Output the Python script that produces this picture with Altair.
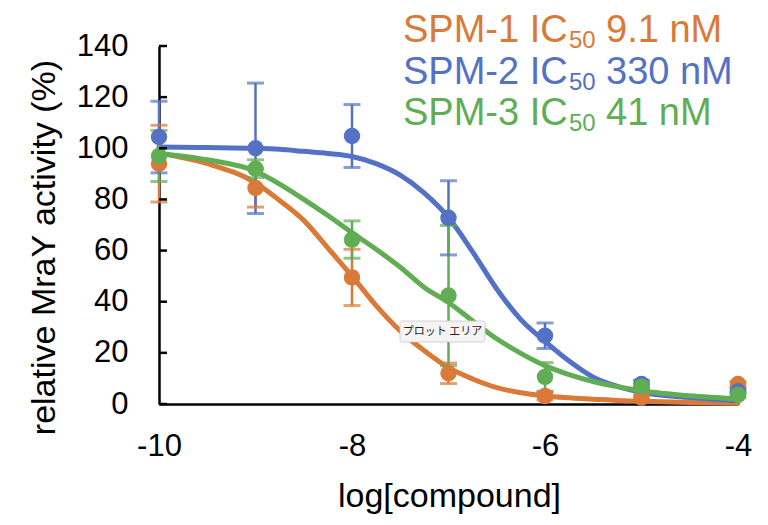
import altair as alt
import pandas as pd

# ---------------- data ----------------
series = ["SPM-1", "SPM-2", "SPM-3"]
ic50_text = ["9.1 nM", "330 nM", "41 nM"]
colors = ["#D97A38", "#5372C6", "#60AD54"]

log_conc = [-10, -9, -8, -7, -6, -5, -4]
spm1_mean = [94, 84.5, 49.5, 12, 3.1, 2.5, 7.8]
spm1_err = [15, 7.5, 11, 4, 1.5, 1, 1]
spm2_mean = [104.4, 100, 104.8, 72.8, 26.7, 7.8, 5]
spm2_err = [14, 25.5, 12.3, 14.5, 5, 1.5, 1]
spm3_mean = [97, 92, 64.3, 42.4, 10.6, 6.8, 3.5]
spm3_err = [10, 3.5, 7.3, 27.4, 5.6, 1, 1]

# fitted curves
fit_x = [-10, -9.5, -9, -8.75, -8.5, -8.25, -8, -7.75, -7.5, -7.25, -7,
         -6.75, -6.5, -6.25, -6, -5.75, -5.5, -5.25, -5, -4.5, -4]
spm1_fit = [98, 94, 86.5, 79.6, 71.8, 61, 50, 38.5, 28.6, 20.8, 14.2,
            9.8, 6.4, 4.4, 3.1, 2.4, 1.9, 1.4, 1.1, 0.6, 0.3]
spm2_fit = [100.5, 100.3, 100, 99.6, 98.8, 98, 96.8, 94, 89.5, 82.5, 73,
            59.5, 45, 33, 24.5, 16.8, 10.5, 6.9, 4.6, 2.5, 1.3]
spm3_fit = [98, 95.5, 91, 86, 80, 73.7, 67, 60.5, 53.5, 45.6, 39.7,
            32.5, 25.5, 19.8, 15, 11.5, 8.8, 6.8, 5.2, 3.2, 2]

x_ticks = [-10, -8, -6, -4]
y_ticks = [0, 20, 40, 60, 80, 100, 120, 140]
tooltip_label = "プロット エリア"

# ---------------- tables ----------------
means = [spm1_mean, spm2_mean, spm3_mean]
errs = [spm1_err, spm2_err, spm3_err]
fits = [spm1_fit, spm2_fit, spm3_fit]

pts = pd.DataFrame([
    {"series": s, "x": x, "mean": m, "err": e}
    for s, ms, es in zip(series, means, errs)
    for x, m, e in zip(log_conc, ms, es)
])
curves = pd.DataFrame([
    {"series": s, "x": x, "y": y}
    for s, ys in zip(series, fits)
    for x, y in zip(fit_x, ys)
])
ticks_df = pd.DataFrame({"v": y_ticks})

FONT = "Liberation Sans"

xscale = alt.Scale(domain=[-10, -4], nice=False, zero=False)
yscale = alt.Scale(domain=[0, 140], nice=False)
cscale = alt.Scale(domain=series, range=colors)

xaxis = alt.Axis(values=x_ticks, ticks=False, tickSize=0, grid=False,
                 labelExpr="'' + datum.value", labelPadding=27, labelFlush=False,
                 domainColor="black", domainWidth=2.5,
                 title="log[compound]", titleX=290, titleY=102,
                 titleBaseline="alphabetic", titleAlign="center")
yaxis = alt.Axis(values=y_ticks, ticks=False, tickSize=0, grid=False,
                 format="d", labelPadding=31,
                 domainColor="black", domainWidth=2.5,
                 title="relative MraY activity (%)", titleX=-105, titleY=201,
                 titleBaseline="alphabetic", titleAlign="center")

X = alt.X("x:Q", scale=xscale, axis=xaxis)
C = alt.Color("series:N", scale=cscale, legend=None)

lines = alt.Chart(curves).mark_line(strokeWidth=5, interpolate="monotone",
                                    strokeCap="round").encode(
    x=X, y=alt.Y("y:Q", scale=yscale, axis=yaxis), color=C,
    detail="series:N")

base = alt.Chart(pts).transform_calculate(
    lo="datum.mean - datum.err", hi="datum.mean + datum.err")

bars = base.mark_rule(strokeWidth=2.5).encode(
    x=alt.X("x:Q", scale=xscale), y=alt.Y("lo:Q", scale=yscale), y2="hi:Q",
    color=C)
cap_lo = base.mark_tick(orient="horizontal", size=17, thickness=3).encode(
    x=alt.X("x:Q", scale=xscale), y=alt.Y("lo:Q", scale=yscale), color=C)
cap_hi = base.mark_tick(orient="horizontal", size=17, thickness=3).encode(
    x=alt.X("x:Q", scale=xscale), y=alt.Y("hi:Q", scale=yscale), color=C)

dots = alt.Chart(pts).mark_circle(size=270, opacity=1).encode(
    x=alt.X("x:Q", scale=xscale), y=alt.Y("mean:Q", scale=yscale), color=C)

inner_ticks = alt.Chart(ticks_df).mark_rule(color="black", strokeWidth=2.5).encode(
    y=alt.Y("v:Q", scale=yscale), x=alt.value(0), x2=alt.value(8))

layers = [lines, bars, cap_lo, cap_hi, dots, inner_ticks]

# legend text (IC50 with subscript)
for i, (s, t, col) in enumerate(zip(series, ic50_text, colors)):
    yb = -4 + i * 41.5
    d = alt.Data(values=[{"a": s + " IC", "b": "50", "c": t}])
    layers.append(alt.Chart(d).mark_text(font=FONT, fontSize=38, color=col,
                                          align="left", baseline="alphabetic").encode(
        text="a:N", x=alt.value(244), y=alt.value(yb)))
    layers.append(alt.Chart(d).mark_text(font=FONT, fontSize=24, color=col,
                                          align="left", baseline="alphabetic").encode(
        text="b:N", x=alt.value(410), y=alt.value(yb + 6)))
    layers.append(alt.Chart(d).mark_text(font=FONT, fontSize=38, color=col,
                                          align="left", baseline="alphabetic").encode(
        text="c:N", x=alt.value(447), y=alt.value(yb)))

# hover tooltip box seen in the screenshot
tip = alt.Data(values=[{"t": tooltip_label}])
layers.append(alt.Chart(tip).mark_rect(fill="#F4F4F4", stroke="#C9C9C9",
                                       strokeWidth=0.8, cornerRadius=2).encode(
    x=alt.value(241), x2=alt.value(326), y=alt.value(275), y2=alt.value(296)))
layers.append(alt.Chart(tip).mark_text(font="Noto Sans CJK JP", fontSize=11,
                                       color="#222222", align="center",
                                       baseline="middle").encode(
    text="t:N", x=alt.value(283.5), y=alt.value(285.5)))

chart = alt.layer(*layers).properties(
    width=579, height=358,
    autosize=alt.AutoSizeParams(type="none"),
    padding={"left": 151, "top": 38, "right": 20, "bottom": 115},
    background="white",
).configure_view(strokeWidth=0).configure_axis(
    labelFont=FONT, labelFontSize=31, labelColor="black",
    titleFont=FONT, titleFontSize=34, titleFontWeight="normal", titleColor="black",
)

chart.save("out.html", embed_options={"renderer": "svg", "actions": False})
